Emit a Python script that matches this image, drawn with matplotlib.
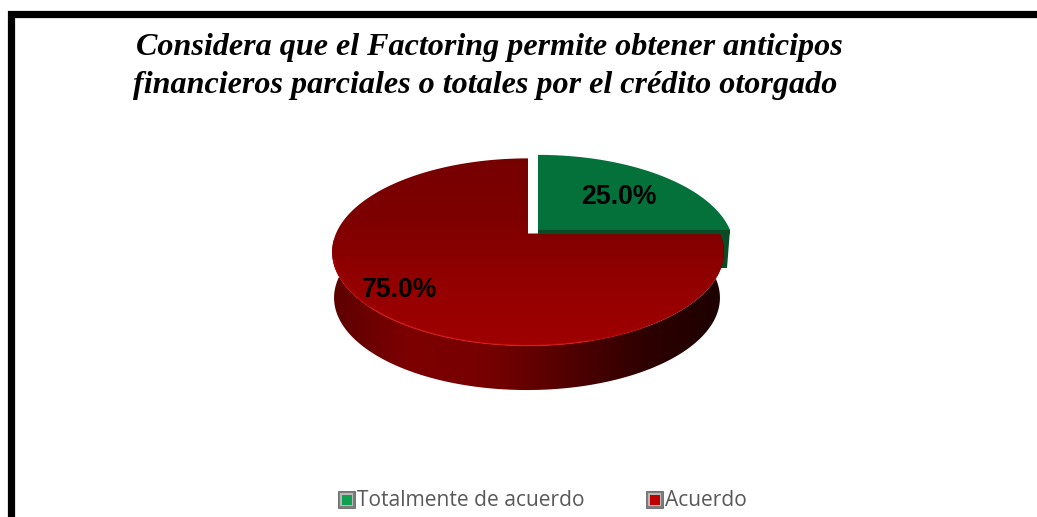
import numpy as np
import matplotlib
matplotlib.use("Agg")
import matplotlib.pyplot as plt
from matplotlib.colors import LinearSegmentedColormap
from matplotlib.patches import Polygon, Rectangle

title_lines = ["Considera que el Factoring permite obtener anticipos",
               "financieros parciales o totales por el crédito otorgado"]
categories = ["Totalmente de acuerdo", "Acuerdo"]
values = [25.0, 75.0]
colors = ["#04703a", "#8c0000"]
legend_inner = ["#0fa050", "#c00000"]

# geometria del pie (pixeles de la imagen)
CX, CY = 528, 233.5
RX, RY = 192, 90
K = 0.198
DEPTH = 46
EXPLODE = (10, -3.5)


def project(u, v, dx=0, dy=0, scale=1.0):
    # circulo unidad -> pantalla, con algo de perspectiva
    w = 1 + K * v
    return CX + dx + scale * RX * u / w, CY + dy - scale * RY * v / w


def wedge(a0, a1, dx=0, dy=0):
    t = np.radians(np.linspace(a0, a1, 200))
    x, y = project(np.cos(t), np.sin(t), dx, dy)
    return np.r_[x, CX + dx], np.r_[y, CY + dy]


def gradient(ax, data, cmap, clip, extent):
    im = ax.imshow(data, cmap=cmap, extent=extent, aspect="auto", zorder=clip.get_zorder(),
                   vmin=0, vmax=1, interpolation="bilinear")
    im.set_clip_path(clip)
    return im


fig = plt.figure(figsize=(10.37, 5.17), dpi=100)
ax = fig.add_axes([0, 0, 1, 1])
ax.axis("off")

# marco negro, abierto por abajo y a la derecha
ax.plot([10.5, 10.5, 1045], [525, 14, 14], color="black", lw=5.2, solid_joinstyle="miter", zorder=1)

# angulos a partir de los valores (sentido horario desde arriba)
green_end = 90 - 360 * values[0] / sum(values)
red_end = green_end - 360 * values[1] / sum(values)

# pared del sector verde
gx0, gy0 = project(1, 0, *EXPLODE)
wall_g = [(gx0, gy0), (gx0 - 3, gy0 + 38), (gx0 - 14, gy0 + 38), (gx0 - 14, gy0)]
ax.add_patch(Polygon(wall_g, color="#0a4a24", lw=0, zorder=2))

# pared del sector rojo
t = np.radians(np.linspace(green_end, red_end, 300))
tx, ty = project(np.cos(t), np.sin(t))
bx, by = project(np.cos(t), np.sin(t), -1, DEPTH, 0.985)
wall = Polygon(np.c_[np.r_[tx, bx[::-1]], np.r_[ty, by[::-1]]], lw=0, zorder=3, transform=ax.transData)
wall.set_facecolor("none")
ax.add_patch(wall)
wall_cmap = LinearSegmentedColormap.from_list(
    "wall", ["#5c0000", "#7d0000", "#760000", "#520000", "#2e0000", "#1c0000"])
gradient(ax, np.linspace(0, 1, 256)[None, :], wall_cmap, wall, (331, 725, 392, 240))

# cara superior roja
x, y = wedge(red_end, green_end)
top = Polygon(np.c_[x, y], lw=0, zorder=4)
top.set_facecolor("none")
ax.add_patch(top)
top_cmap = LinearSegmentedColormap.from_list("top", ["#760000", "#7e0000", "#940000", "#a00000"])
gradient(ax, np.linspace(0, 1, 256)[:, None], top_cmap, top, (325, 730, 350, 155))

# brillo del borde frontal
t = np.radians(np.linspace(196, 300, 120))
hx, hy = project(np.cos(t), np.sin(t), 0, 0, 0.995)
ax.plot(hx, hy, color="#b80000", lw=1.2, alpha=0.7, zorder=5)
t = np.radians(np.linspace(225, 285, 80))
hx, hy = project(np.cos(t), np.sin(t), 0, 0.5, 0.995)
ax.plot(hx, hy, color="#e03030", lw=0.9, alpha=0.5, zorder=5)

# cara superior verde
x, y = wedge(green_end, 90, *EXPLODE)
ax.add_patch(Polygon(np.c_[x, y], color=colors[0], lw=0, zorder=6))
ax.plot([CX + EXPLODE[0], project(1, 0, *EXPLODE)[0]], [CY + EXPLODE[1] + 1.5] * 2,
        color="#0a4a24", lw=3, zorder=6, solid_capstyle="butt")

# etiquetas de porcentaje
label_pos = [(618.5, 197), (399.5, 290)]
for val, (lx, ly) in zip(values, label_pos):
    ax.text(lx, ly, f"{val:.1f}%", family="Liberation Sans", weight="bold", fontsize=19.2,
            color="black", ha="center", va="center", zorder=8)

# titulo
for line, lx, ly in zip(title_lines, (136, 133), (47, 85)):
    ax.text(lx, ly, line, family="Liberation Serif", style="italic", weight="bold",
            fontsize=23.1, color="black", ha="left", va="center", zorder=8)

# leyenda
legend_x = [338, 646]
for name, inner, lx in zip(categories, legend_inner, legend_x):
    ax.add_patch(Rectangle((lx, 491), 17, 17, fc="#7d7d7d", ec="#666666", lw=0.6, zorder=7))
    ax.add_patch(Rectangle((lx + 2, 493), 13, 13, fc="#b8b8b8", lw=0, zorder=7))
    ax.add_patch(Rectangle((lx + 3.5, 494.5), 10, 10, fc=inner, lw=0, zorder=7))
    ax.text(lx + 19, 500.5, name, family="Open Sans", fontsize=15.1, color="#595959",
            ha="left", va="center", zorder=8)

ax.set_xlim(0, 1037)
ax.set_ylim(517, 0)
fig.savefig("out.png", dpi=100)
